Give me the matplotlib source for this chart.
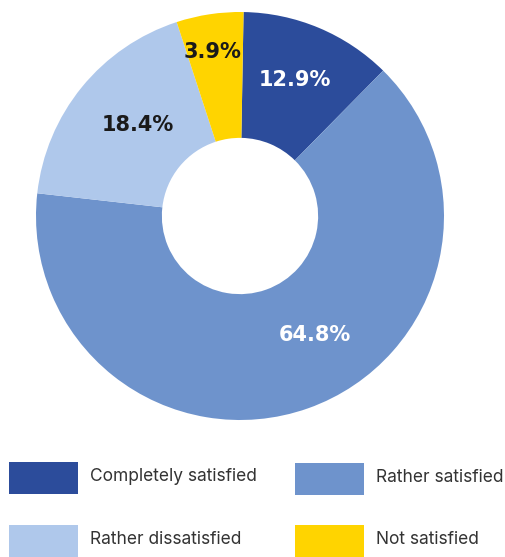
import matplotlib
matplotlib.use("Agg")
import matplotlib.pyplot as plt
from matplotlib.patches import Rectangle
import numpy as np

categories = ["Completely satisfied", "Rather satisfied", "Rather dissatisfied", "Not satisfied"]
# wedge shares as drawn in the picture
shares = [12.1, 64.4, 18.2, 5.3]
labels = ["12.9%", "64.8%", "18.4%", "3.9%"]
colors = ["#2C4C9B", "#6E93CC", "#AFC8EB", "#FFD400"]
label_colors = ["white", "white", "#1a1a1a", "#1a1a1a"]

W, H = 506, 557
fig = plt.figure(figsize=(W / 100, H / 100), dpi=100)
cx, cy, R = 240, 216, 204
ax = fig.add_axes([(cx - R) / W, (H - cy - R) / H, 2 * R / W, 2 * R / H])
wedges, _ = ax.pie(shares, colors=colors, startangle=89, counterclock=False,
                   radius=1, wedgeprops=dict(width=0.617, linewidth=0))
ax.set_xlim(-1, 1)
ax.set_ylim(-1, 1)
ax.set_aspect("equal")
ax.axis("off")

# label placement (angle offset in degrees, radius fraction)
placement = [(0.8, 0.719), (12.75, 0.69), (-2.5, 0.67), (0.85, 0.815)]
for w, lab, lc, (doff, rr) in zip(wedges, labels, label_colors, placement):
    mid = (w.theta1 + w.theta2) / 2 + doff
    x = rr * np.cos(np.radians(mid))
    y = rr * np.sin(np.radians(mid))
    ax.text(x, y, lab, ha="center", va="center", color=lc, fontsize=15,
            fontweight="bold", family="DejaVu Sans")

# legend
legend_items = [(9, 462, 0), (295, 463, 1), (9, 525, 2), (295, 525, 3)]
for bx, by, i in legend_items:
    bw, bh = 69, 32
    fig.patches.append(Rectangle((bx / W, 1 - (by + bh) / H), bw / W, bh / H,
                                 transform=fig.transFigure, facecolor=colors[i],
                                 edgecolor="none"))
    fig.text((bx + 81) / W, 1 - (by + bh / 2 - 1.5) / H, categories[i], ha="left",
             va="center", fontsize=12.5, color="#333333", family="Inter")

fig.savefig("out.png", dpi=100)
